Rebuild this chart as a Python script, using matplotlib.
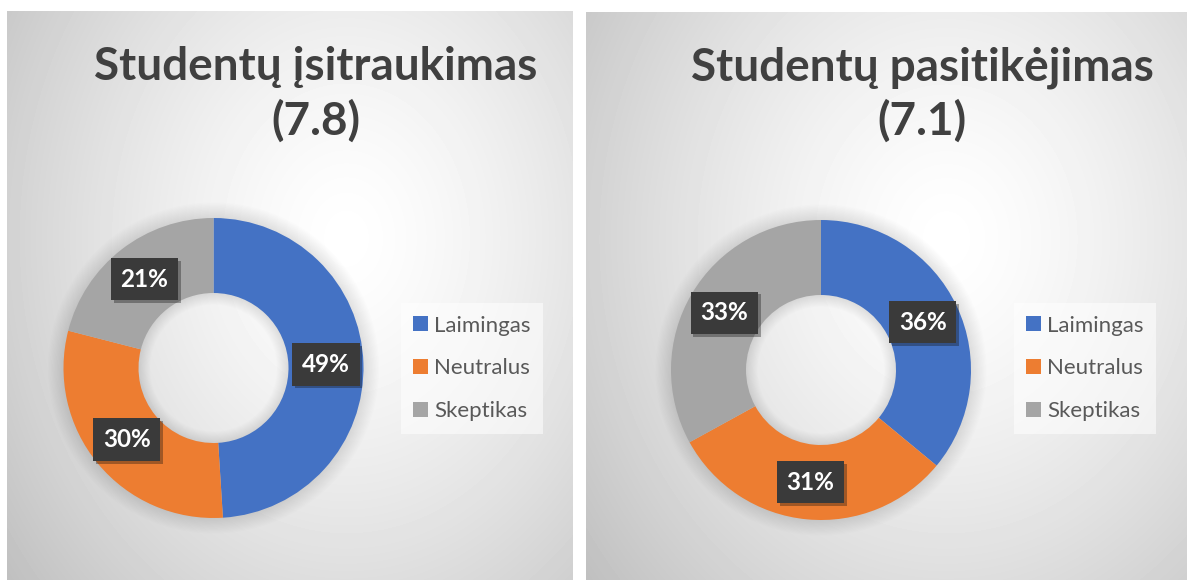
# Import libraries
import numpy as np
import matplotlib.pyplot as plt
from matplotlib import patheffects as pe
from matplotlib.patches import Wedge

# Data
categories = ['Laimingas', 'Neutralus', 'Skeptikas']
engagement = [49, 30, 21]
confidence = [36, 31, 33]
titles = ['Studentų įsitraukimas', 'Studentų pasitikėjimas']
scores = ['(7.8)', '(7.1)']
colors = ['#4472C4', '#ED7D31', '#A5A5A5']

W, H = 1190, 580
plt.rcParams['font.family'] = ['Lato', 'DejaVu Sans']

fig = plt.figure(figsize=(W / 100, H / 100), dpi=100)
fig.patch.set_facecolor('white')


def px_axes(x0, y0, x1, y1):
    # pixel box with top-left origin -> figure axes
    return fig.add_axes([x0 / W, 1 - y1 / H, (x1 - x0) / W, (y1 - y0) / H])


def background(x0, y0, x1, y1):
    ax = px_axes(x0, y0, x1, y1)
    w, h = int(x1 - x0), int(y1 - y0)
    xx, yy = np.meshgrid(np.linspace(0, 1, w), np.linspace(0, 1, h))
    d = np.sqrt(((xx - 0.6) / 0.6) ** 2 + ((yy - 0.4) / 0.75) ** 2)
    d = d / d.max()
    v = 1 - 0.25 * d ** 1.4
    ax.imshow(v, cmap='gray', vmin=0, vmax=1, aspect='auto', interpolation='bilinear')
    ax.axis('off')


def donut(cx, cy, values, title, score, tx, leg_x):
    r, half = 150, 175
    ax = px_axes(cx - half, cy - half, cx + half, cy + half)

    # soft shadow behind the ring
    for i in range(14):
        ax.add_patch(Wedge((0, 0), 1 + 0.008 * i, 0, 360, width=0.5 + 0.014 * i,
                           color='black', alpha=0.009, lw=0))

    wedges, _, autotexts = ax.pie(values, colors=colors, startangle=90, counterclock=False,
                                  wedgeprops=dict(width=0.5, linewidth=0),
                                  autopct='%1.0f%%', pctdistance=0.75)
    ax.set_xlim(-half / r, half / r)
    ax.set_ylim(-half / r, half / r)
    ax.axis('off')

    for t in autotexts:
        t.set_color('white')
        t.set_fontweight('bold')
        t.set_fontsize(17.5)
        t.set_bbox(dict(boxstyle='square,pad=0.4', facecolor='#3a3a3a', edgecolor='none'))
        t.get_bbox_patch().set_path_effects([pe.SimplePatchShadow(offset=(2, -2), alpha=0.35),
                                             pe.Normal()])

    fig.text(tx / W, 1 - 80 / H, title, ha='center', va='baseline',
             fontsize=33, fontweight='bold', color='#404040')
    fig.text(tx / W, 1 - 135 / H, score, ha='center', va='baseline',
             fontsize=33, fontweight='bold', color='#404040')

    leg = fig.legend(wedges, categories, loc='center left',
                     bbox_to_anchor=(leg_x / W, 1 - 368.5 / H), borderaxespad=0,
                     fontsize=16, frameon=True, fancybox=False,
                     handlelength=0.65, handleheight=0.65, handletextpad=0.3,
                     labelspacing=1.03, borderpad=0.55)
    leg.get_frame().set_facecolor('white')
    leg.get_frame().set_alpha(0.55)
    leg.get_frame().set_edgecolor('none')
    for txt in leg.get_texts():
        txt.set_color('#595959')


background(7, 11, 573, 580)
background(586, 12, 1187, 580)

donut(213.5, 368, engagement, titles[0], scores[0], 316, 401)
donut(821, 370, confidence, titles[1], scores[1], 922, 1014)

fig.savefig('out.png', dpi=100)
